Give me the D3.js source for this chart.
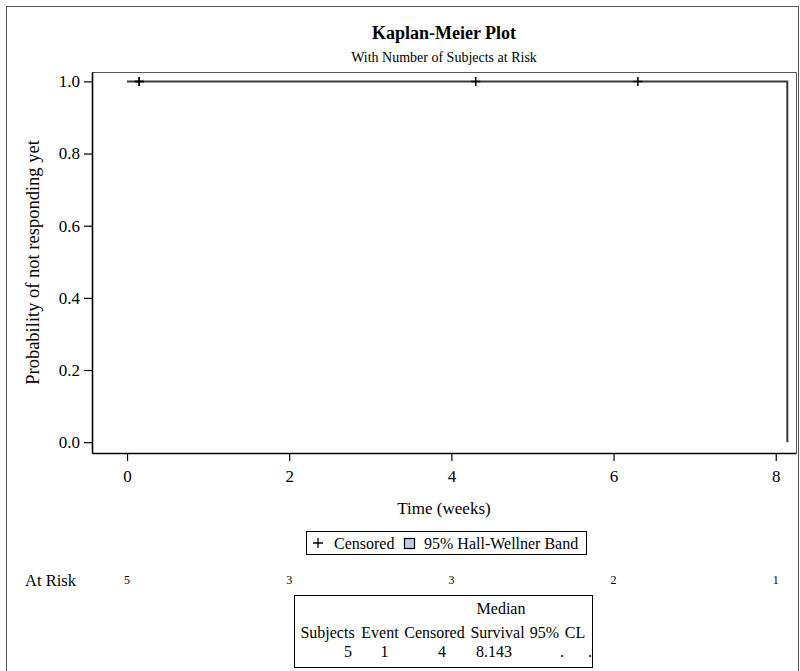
<!DOCTYPE html>
<html>
<head>
<meta charset="utf-8">
<script src="https://cdn.jsdelivr.net/npm/d3@7/dist/d3.min.js"></script>
<style>
  body { margin: 0; background: #fff; }
  svg text { font-family: "Liberation Serif", "Times New Roman", serif; fill: #000; }
</style>
</head>
<body>
<div id="chart"></div>
<script>
// step curve (time, survival) and censored subjects
const stepTimes = [0, 8.143];
const stepSurv = [1, 0];
const censorTimes = [0.15, 0.15, 4.3, 6.3];
const censorSurv = [1, 1, 1, 1];

// at-risk row
const riskTimes = [0, 2, 4, 6, 8];
const riskCounts = [5, 3, 3, 2, 1];

// axis ticks
const xTicks = [0, 2, 4, 6, 8];
const yTicks = [0, 0.2, 0.4, 0.6, 0.8, 1.0];

// summary table
const tableHeaders = ["Subjects", "Event", "Censored", "Survival", "95%", "CL"];
const tableValues = ["5", "1", "4", "8.143", ".", "."];

const W = 800, H = 671;
const svg = d3.select("#chart").append("svg")
  .attr("width", W)
  .attr("height", H);

// outer frame
svg.append("rect")
  .attr("x", 6.5).attr("y", 6.5)
  .attr("width", 792).attr("height", 700)
  .attr("fill", "none").attr("stroke", "#555").attr("stroke-width", 1);

let pLeft = 92, pRight = 796, pTop = 72, pBottom = 453;

let x = d3.scaleLinear().domain([-0.432, 8.25]).range([pLeft, pRight]);
let y = d3.scaleLinear().domain([-0.03, 1.026]).range([pBottom, pTop]);

// titles
svg.append("text")
  .attr("x", (pLeft + pRight) / 2).attr("y", 39)
  .attr("text-anchor", "middle")
  .style("font-size", "18px").style("font-weight", "bold")
  .text("Kaplan-Meier Plot");
svg.append("text")
  .attr("x", (pLeft + pRight) / 2).attr("y", 62)
  .attr("text-anchor", "middle")
  .style("font-size", "14px")
  .text("With Number of Subjects at Risk");

// top/right border of plot area
svg.append("path")
  .attr("d", "M" + pLeft + "," + (pTop + 0.5) + "H" + (pRight + 0.5) + "V" + pBottom)
  .attr("fill", "none").attr("stroke", "#555").attr("stroke-width", 1);

let xAxis = d3.axisBottom(x).tickValues(xTicks).tickFormat(d3.format("d")).tickSize(8).tickPadding(9).tickSizeOuter(0);
let yAxis = d3.axisLeft(y).tickValues(yTicks).tickFormat(d3.format(".1f")).tickSize(8).tickPadding(4).tickSizeOuter(0);

let gx = svg.append("g")
  .attr("transform", "translate(0," + pBottom + ")")
  .call(xAxis);
let gy = svg.append("g")
  .attr("transform", "translate(" + pLeft + ",0)")
  .call(yAxis);

[gx, gy].forEach(g => {
  g.select(".domain").attr("stroke", "#000").attr("stroke-width", 1.6);
  g.selectAll(".tick line").attr("stroke", "#000").attr("stroke-width", 1.2);
  g.selectAll(".tick text").style("font-size", "17px").attr("fill", "#000");
});

// axis labels
svg.append("text")
  .attr("x", (pLeft + pRight) / 2).attr("y", 514)
  .attr("text-anchor", "middle")
  .style("font-size", "17px")
  .text("Time (weeks)");
svg.append("text")
  .attr("transform", "translate(39," + ((pTop + pBottom) / 2) + ") rotate(-90)")
  .attr("text-anchor", "middle")
  .style("font-size", "18.5px")
  .text("Probability of not responding yet");

// survival step line
let stepData = stepTimes.map((t, i) => [t, stepSurv[i]]);
let line = d3.line()
  .x(d => x(d[0]))
  .y(d => y(d[1]))
  .curve(d3.curveStepAfter);
svg.append("path")
  .datum(stepData)
  .attr("d", line)
  .attr("fill", "none")
  .attr("stroke", "#3a3a3a")
  .attr("stroke-width", 2);

// censored marks
let arm = 4.5;
svg.selectAll(".censor")
  .data(censorTimes)
  .enter()
  .append("path")
  .attr("class", "censor")
  .attr("d", (d, i) => {
    let cx = x(d), cy = y(censorSurv[i]);
    return "M" + (cx - arm) + "," + cy + "H" + (cx + arm) + "M" + cx + "," + (cy - arm) + "V" + (cy + arm);
  })
  .attr("stroke", "#000")
  .attr("stroke-width", 1.5);

// legend
let lg = svg.append("g");
lg.append("rect")
  .attr("x", 306.5).attr("y", 531.5).attr("width", 280).attr("height", 23)
  .attr("fill", "#fff").attr("stroke", "#000").attr("stroke-width", 1);
lg.append("path")
  .attr("d", "M313,543H323M318,538V548")
  .attr("stroke", "#000").attr("stroke-width", 1.3);
lg.append("text")
  .attr("x", 334).attr("y", 548.5)
  .style("font-size", "16px")
  .text("Censored");
lg.append("rect")
  .attr("x", 404.5).attr("y", 538.5).attr("width", 10).attr("height", 10)
  .attr("fill", "#bccfe7").attr("stroke", "#000").attr("stroke-width", 1.2);
lg.append("text")
  .attr("x", 424).attr("y", 548.5)
  .style("font-size", "16px")
  .text("95% Hall-Wellner Band");

// at risk row
svg.append("text")
  .attr("x", 25).attr("y", 586)
  .style("font-size", "16.5px")
  .text("At Risk");
svg.selectAll(".risk")
  .data(riskTimes)
  .enter()
  .append("text")
  .attr("class", "risk")
  .attr("x", d => x(d))
  .attr("y", 584)
  .attr("text-anchor", "middle")
  .style("font-size", "12px")
  .text((d, i) => riskCounts[i]);

// summary table
let colCenters = [327.5, 380, 434.5, 497.5, 544.5, 575];
let valX = [348, 384.5, 442, 494, 562, 590];
let tb = svg.append("g");
tb.append("rect")
  .attr("x", 294.5).attr("y", 595.5).attr("width", 298).attr("height", 72)
  .attr("fill", "#fff").attr("stroke", "#000").attr("stroke-width", 1);
tb.append("text")
  .attr("x", 501).attr("y", 614)
  .attr("text-anchor", "middle")
  .style("font-size", "16px")
  .text("Median");
tb.selectAll(".hdr")
  .data(tableHeaders)
  .enter()
  .append("text")
  .attr("class", "hdr")
  .attr("x", (d, i) => colCenters[i])
  .attr("y", 638)
  .attr("text-anchor", "middle")
  .style("font-size", "16px")
  .text(d => d);
tb.selectAll(".val")
  .data(tableValues)
  .enter()
  .append("text")
  .attr("class", "val")
  .attr("x", (d, i) => valX[i])
  .attr("y", 657)
  .attr("text-anchor", "middle")
  .style("font-size", "16px")
  .text(d => d);
</script>
</body>
</html>
